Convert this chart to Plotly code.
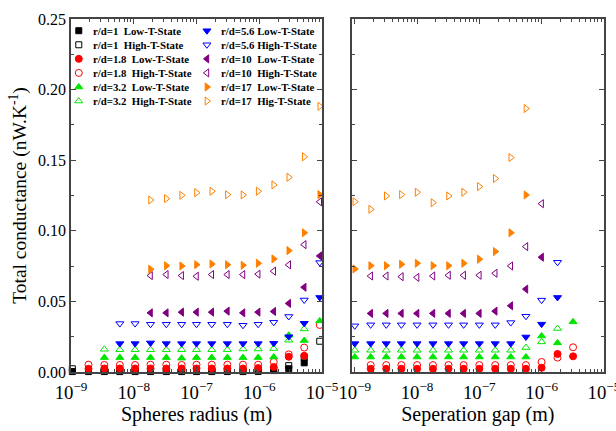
import plotly.graph_objects as go

# ---------------- data ----------------
RADIUS_M = [1.05e-9, 1.9e-9, 3.4e-9, 6.0e-9, 1.05e-8, 1.85e-8, 3.3e-8, 5.8e-8, 1.0e-7,
            1.75e-7, 3.1e-7, 5.5e-7, 9.6e-7, 1.7e-6, 2.95e-6, 5.2e-6, 9.2e-6]
GAP_M = [1.0e-9, 1.8e-9, 3.2e-9, 5.6e-9, 1.0e-8, 1.8e-8, 3.2e-8, 5.6e-8, 1.0e-7,
         1.8e-7, 3.2e-7, 5.6e-7, 1.0e-6, 1.8e-6, 3.2e-6]

SERIES_NAMES = [
    "r/d=1\u00a0\u00a0Low-T-State", "r/d=1\u00a0\u00a0High-T-State",
    "r/d=1.8\u00a0\u00a0Low-T-State", "r/d=1.8\u00a0\u00a0High-T-State",
    "r/d=3.2\u00a0\u00a0Low-T-State", "r/d=3.2\u00a0\u00a0High-T-State",
    "r/d=5.6 Low-T-State", "r/d=5.6 High-T-State",
    "r/d=10\u00a0\u00a0Low-T-State", "r/d=10\u00a0\u00a0High-T-State",
    "r/d=17\u00a0\u00a0Low-T-State", "r/d=17\u00a0\u00a0Hig-T-State",
]

# left panel (vs sphere radius): first grid index and values
L_START = [0, 0, 1, 1, 2, 2, 3, 3, 5, 5, 5, 5]
L_RD1_LOW = [0.0003, 0.0003, 0.0003, 0.0003, 0.0003, 0.0003, 0.0003, 0.0003, 0.0003,
             0.0003, 0.0003, 0.0003, 0.0004, 0.0010, 0.0023, 0.0065]
L_RD1_HIGH = [0.0023, 0.0010, 0.0010, 0.0010, 0.0010, 0.0010, 0.0010, 0.0010, 0.0010,
              0.0010, 0.0010, 0.0010, 0.0010, 0.0015, 0.0045, 0.0103, 0.0218]
L_RD18_LOW = [0.0023, 0.0025, 0.0025, 0.0025, 0.0025, 0.0025, 0.0025, 0.0025, 0.0025,
              0.0025, 0.0025, 0.0028, 0.0035, 0.0108, 0.0115]
L_RD18_HIGH = [0.0052, 0.0050, 0.0050, 0.0050, 0.0052, 0.0052, 0.0050, 0.0052, 0.0052,
               0.0052, 0.0052, 0.0052, 0.0072, 0.0125, 0.0173, 0.0333]
L_RD32_LOW = [0.0102, 0.0102, 0.0102, 0.0102, 0.0102, 0.0098, 0.0102, 0.0102, 0.0102,
              0.0102, 0.0102, 0.0106, 0.0260, 0.0223, 0.0362]
L_RD32_HIGH = [0.0161, 0.0158, 0.0158, 0.0158, 0.0158, 0.0158, 0.0158, 0.0158, 0.0158,
               0.0163, 0.0163, 0.0166, 0.0225, 0.0305]
L_RD56_LOW = [0.0201, 0.0201, 0.0206, 0.0201, 0.0201, 0.0201, 0.0201, 0.0201, 0.0201,
              0.0201, 0.0203, 0.0250, 0.0345, 0.0528]
L_RD56_HIGH = [0.0343, 0.0343, 0.0338, 0.0338, 0.0338, 0.0338, 0.0338, 0.0338, 0.0331,
               0.0338, 0.0352, 0.0393, 0.0510, 0.0775]
L_RD10_LOW = [0.0419, 0.0419, 0.0424, 0.0424, 0.0424, 0.0431, 0.0419, 0.0424, 0.0429,
              0.0486, 0.0600, 0.0822]
L_RD10_HIGH = [0.0683, 0.0690, 0.0683, 0.0678, 0.0690, 0.0690, 0.0690, 0.0693, 0.0714,
               0.0759, 0.0902, 0.1205]
L_RD17_LOW = [0.0728, 0.0753, 0.0751, 0.0760, 0.0765, 0.0760, 0.0756, 0.0770, 0.0801,
              0.0860, 0.0986, 0.1256]
L_RD17_HIGH = [0.1218, 0.1228, 0.1251, 0.1270, 0.1280, 0.1256, 0.1254, 0.1280, 0.1325,
               0.1379, 0.1524, 0.1882]

# right panel (vs separation gap): first grid index and values (r/d=1 not visible)
R_START = [None, None, 1, 1, 0, 0, 0, 0, 1, 1, 0, 0]
R_RD18_LOW = [0.0023, 0.0023, 0.0023, 0.0023, 0.0023, 0.0023, 0.0023, 0.0023, 0.0023,
              0.0023, 0.0023, 0.0030, 0.0128, 0.0111]
R_RD18_HIGH = [0.0049, 0.0049, 0.0049, 0.0049, 0.0049, 0.0049, 0.0049, 0.0049, 0.0049,
               0.0049, 0.0049, 0.0071, 0.0102, 0.0175]
R_RD32_LOW = [0.0106, 0.0106, 0.0106, 0.0106, 0.0106, 0.0106, 0.0106, 0.0106, 0.0106,
              0.0106, 0.0106, 0.0106, 0.0255, 0.0206, 0.0355]
R_RD32_HIGH = [0.0154, 0.0154, 0.0154, 0.0154, 0.0154, 0.0154, 0.0154, 0.0154, 0.0154,
               0.0154, 0.0154, 0.0173, 0.0213, 0.0308]
R_RD56_LOW = [0.0201, 0.0201, 0.0201, 0.0201, 0.0201, 0.0201, 0.0201, 0.0201, 0.0201,
              0.0201, 0.0201, 0.0248, 0.0339, 0.0528]
R_RD56_HIGH = [0.0327, 0.0334, 0.0334, 0.0334, 0.0334, 0.0334, 0.0334, 0.0334, 0.0334,
               0.0334, 0.0350, 0.0395, 0.0509, 0.0777]
R_RD10_LOW = [0.0415, 0.0415, 0.0415, 0.0415, 0.0415, 0.0415, 0.0415, 0.0415, 0.0431,
              0.0469, 0.0587, 0.0813]
R_RD10_HIGH = [0.0680, 0.0680, 0.0675, 0.0670, 0.0680, 0.0685, 0.0685, 0.0685, 0.0699,
               0.0751, 0.0888, 0.1192]
R_RD17_LOW = [0.0730, 0.0753, 0.0753, 0.0763, 0.0770, 0.0753, 0.0753, 0.0770, 0.0799,
              0.0853, 0.0986, 0.1254]
R_RD17_HIGH = [0.1206, 0.1152, 0.1247, 0.1256, 0.1273, 0.1199, 0.1247, 0.1273, 0.1313,
               0.1370, 0.1519, 0.1866]

Y_TICKS = [0.00, 0.05, 0.10, 0.15, 0.20, 0.25]

# ---------------- styles ----------------
COLORS = ["#000000", "#000000", "#ff0000", "#ff0000", "#00e600", "#00e600",
          "#0000ff", "#0000ff", "#800080", "#800080", "#ff8000", "#ff8000"]
SYMBOLS = ["square", "square-open", "circle", "circle-open",
           "triangle-up", "triangle-up-open", "triangle-down", "triangle-down-open",
           "triangle-left", "triangle-left-open", "triangle-right", "triangle-right-open"]
SIZES = [6, 6, 7, 7, 7, 7, 7, 7, 7, 7, 7, 7]

LEFT_VALUES = [L_RD1_LOW, L_RD1_HIGH, L_RD18_LOW, L_RD18_HIGH, L_RD32_LOW, L_RD32_HIGH,
               L_RD56_LOW, L_RD56_HIGH, L_RD10_LOW, L_RD10_HIGH, L_RD17_LOW, L_RD17_HIGH]
RIGHT_VALUES = [None, None, R_RD18_LOW, R_RD18_HIGH, R_RD32_LOW, R_RD32_HIGH,
                R_RD56_LOW, R_RD56_HIGH, R_RD10_LOW, R_RD10_HIGH, R_RD17_LOW, R_RD17_HIGH]

FONT = "Liberation Serif, Times New Roman, serif"

fig = go.Figure()


def marker_style(i):
    return dict(symbol=SYMBOLS[i], color=COLORS[i], size=SIZES[i],
                line=dict(color=COLORS[i], width=1))


for i in range(12):
    vals = LEFT_VALUES[i]
    s = L_START[i]
    fig.add_trace(go.Scatter(x=RADIUS_M[s:s + len(vals)], y=vals, mode="markers",
                             marker=marker_style(i), cliponaxis=False, showlegend=False,
                             xaxis="x", yaxis="y", name=SERIES_NAMES[i]))
for i in range(12):
    vals = RIGHT_VALUES[i]
    if vals is None:
        continue
    s = R_START[i]
    fig.add_trace(go.Scatter(x=GAP_M[s:s + len(vals)], y=vals, mode="markers",
                             marker=marker_style(i), cliponaxis=False, showlegend=False,
                             xaxis="x2", yaxis="y2", name=SERIES_NAMES[i]))

# ---------------- legend (two columns, drawn inside left panel) ----------------
LEG_COL_X = [78.3, 206.7]
LEG_TEXT_DX = 12.5
LEG_ROW0 = 30.7
LEG_ROW_H = 14.05
for i in range(12):
    col = i // 6
    row = i % 6
    lx = LEG_COL_X[col]
    ly = LEG_ROW0 + row * LEG_ROW_H
    fig.add_trace(go.Scatter(x=[lx], y=[ly], mode="markers", marker=marker_style(i),
                             showlegend=False, xaxis="x3", yaxis="y3", hoverinfo="skip"))
    fig.add_annotation(x=lx + LEG_TEXT_DX, y=ly, xref="x3", yref="y3",
                       text="<b>%s</b>" % SERIES_NAMES[i],
                       showarrow=False, xanchor="left", yanchor="middle",
                       font=dict(family=FONT, size=10.8, color="black"))

# ---------------- layout ----------------
W, H = 616, 431
ML, MR, MT, MB = 70.5, 11.5, 19.0, 59.4
PW = W - ML - MR
LEFT_DOM = [0.0, (322.0 - ML) / PW]
RIGHT_DOM = [(351.7 - ML) / PW, 1.0]

axis_common = dict(
    showline=True, linecolor="#444444", linewidth=1.8, mirror="ticks",
    ticks="inside", ticklen=5, tickwidth=1.2, tickcolor="#444444",
    showgrid=False, zeroline=False,
    tickfont=dict(family=FONT, size=16, color="black"),
)

xaxis_common = dict(axis_common, type="log", dtick=1, exponentformat="power",
                    ticklabelstandoff=3, ticklabeloverflow="allow",
                    tickfont=dict(family=FONT, size=15, color="black"),
                    minor=dict(ticks="inside", ticklen=3, tickwidth=1, tickcolor="#444444", dtick="D1"))

fig.update_layout(
    width=W, height=H,
    margin=dict(l=ML, r=MR, t=MT, b=MB, autoexpand=False),
    paper_bgcolor="white", plot_bgcolor="white",
    font=dict(family=FONT, size=16, color="black"),
    showlegend=False,
    xaxis=dict(xaxis_common, domain=LEFT_DOM, range=[-9, -5], anchor="y",
               title=dict(text="Spheres radius (m)", font=dict(family=FONT, size=20), standoff=2)),
    xaxis2=dict(xaxis_common, domain=RIGHT_DOM, range=[-9.05, -4.998], anchor="y2",
                title=dict(text="Seperation gap (m)", font=dict(family=FONT, size=20), standoff=2)),
    yaxis=dict(axis_common, domain=[0, 1], range=[0, 0.25], tickvals=Y_TICKS, tickformat=".2f",
               minor=dict(ticks="inside", ticklen=3, tickwidth=1, tickcolor="#444444", dtick=0.025),
               anchor="x",
               title=dict(text="Total conductance (nW.K<sup>-1</sup>)",
                          font=dict(family=FONT, size=19.5), standoff=6)),
    yaxis2=dict(axis_common, domain=[0, 1], range=[0, 0.25], tickvals=Y_TICKS, showticklabels=False,
                minor=dict(ticks="inside", ticklen=3, tickwidth=1, tickcolor="#444444", dtick=0.025),
                anchor="x2"),
    xaxis3=dict(range=[ML, 322.0], visible=False, fixedrange=True, overlaying="x", anchor="y3"),
    yaxis3=dict(range=[H - MB, MT], visible=False, fixedrange=True, overlaying="y", anchor="x3"),
)

fig.write_html("out.html", config={"displayModeBar": False},
               post_script="document.body.style.margin='0';")
